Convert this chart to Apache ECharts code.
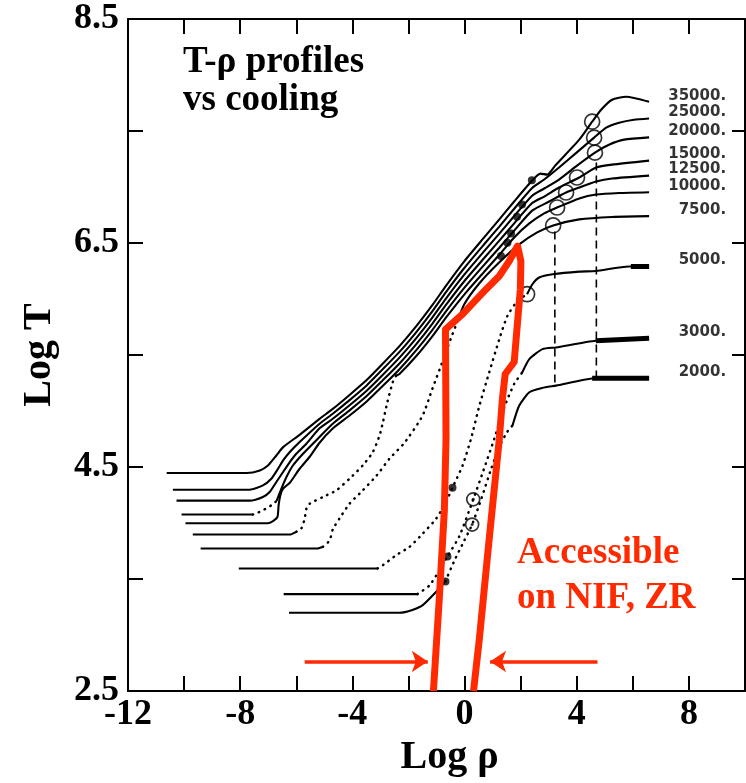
<!DOCTYPE html>
<html><head><meta charset="utf-8">
<script src="https://cdn.jsdelivr.net/npm/echarts@6/dist/echarts.min.js"></script>
<style>html,body{margin:0;padding:0;background:#fff}#c{width:746px;height:783px}</style>
</head><body><div id="c"></div>
<script>
// ---- tick labels ----
const xTickVals = [-10,-8,-6,-4,-2,0,2,4,6,8];
const xLabelVals = [-12,-8,-4,0,4,8];
const yTickVals = [3.5,4.5,5.5,6.5,7.5];
const yLabelVals = [2.5,4.5,6.5,8.5];
const curveLabels = ['35000.','25000.','20000.','15000.','12500.','10000.','7500.','5000.','3000.','2000.'];

// ---- curves (log rho, log T) ----
const c35000 = [[-10.62,4.447],[-7.77,4.447],[-7.30,4.47],[-7.01,4.514],[-6.71,4.603],[-6.47,4.678],[-5.88,4.788],[-5.17,4.930],[-4.70,5.019],[-4.10,5.144],[-3.49,5.277],[-2.93,5.420],[-2.32,5.580],[-1.72,5.758],[-1.15,5.945],[-0.65,6.123],[-0.01,6.337],[0.70,6.550],[1.24,6.711],[1.77,6.871],[2.41,7.058],[2.70,7.12],[2.95,7.111],[3.23,7.191],[4.09,7.423],[4.55,7.583],[4.87,7.690],[5.26,7.779],[5.76,7.806],[6.58,7.761]];
const c25000 = [[-10.40,4.298],[-7.66,4.298],[-7.19,4.336],[-6.89,4.396],[-6.65,4.485],[-6.47,4.559],[-6.23,4.634],[-5.88,4.723],[-5.17,4.887],[-4.70,4.976],[-4.10,5.098],[-3.49,5.229],[-2.93,5.370],[-2.32,5.528],[-1.72,5.705],[-1.15,5.890],[-0.65,6.066],[-0.01,6.277],[0.70,6.489],[1.24,6.647],[1.77,6.806],[2.41,6.991],[2.84,7.067],[3.37,7.174],[3.91,7.289],[4.62,7.441],[5.05,7.530],[5.51,7.574],[6.04,7.601],[6.58,7.612]];
const c20000 = [[-10.27,4.200],[-7.66,4.200],[-7.19,4.233],[-6.95,4.278],[-6.71,4.367],[-6.47,4.456],[-6.23,4.545],[-6.00,4.619],[-5.64,4.708],[-5.17,4.846],[-4.70,4.931],[-4.10,5.052],[-3.49,5.182],[-2.93,5.320],[-2.32,5.477],[-1.72,5.651],[-1.15,5.834],[-0.65,6.009],[-0.01,6.218],[0.70,6.428],[1.24,6.584],[1.77,6.741],[2.41,6.923],[2.84,6.987],[3.37,7.067],[4.01,7.191],[4.65,7.307],[5.15,7.378],[5.69,7.423],[6.58,7.443]];
const c15000a = [[-10.09,4.076],[-7.55,4.076]];
const c15000b = [[-7.55,4.076],[-7.37,4.093],[-7.20,4.114],[-7.02,4.138],[-6.85,4.165],[-6.70,4.198]];
const c15000c = [[-6.70,4.198],[-6.53,4.307],[-6.35,4.411],[-6.12,4.514],[-5.76,4.619],[-5.41,4.708],[-4.70,4.887],[-4.10,5.006],[-3.49,5.134],[-2.93,5.271],[-2.32,5.425],[-1.72,5.598],[-1.15,5.779],[-0.65,5.952],[-0.01,6.159],[0.70,6.366],[1.24,6.521],[1.77,6.676],[2.41,6.857],[2.84,6.915],[3.37,6.996],[4.09,7.085],[4.69,7.174],[5.26,7.200],[6.58,7.236]];
const c12500 = [[-9.95,3.998],[-7.02,3.998],[-6.83,4.018],[-6.67,4.055],[-6.63,4.158],[-6.57,4.247],[-6.47,4.307],[-6.23,4.360],[-5.88,4.485],[-5.52,4.592],[-5.17,4.717],[-4.70,4.844],[-4.10,4.960],[-3.49,5.086],[-2.93,5.221],[-2.32,5.374],[-1.72,5.544],[-1.15,5.723],[-0.65,5.895],[-0.01,6.100],[0.70,6.305],[1.24,6.458],[1.77,6.611],[2.41,6.789],[3.02,6.871],[3.62,6.951],[4.09,6.996],[4.69,7.049],[5.26,7.076],[6.58,7.102]];
const c10000a = [[-9.69,3.898],[-6.23,3.898],[-6.00,3.922]];
const c10000b = [[-6.00,3.922],[-5.82,3.951],[-5.70,4.040],[-5.64,4.129],[-5.52,4.173],[-5.05,4.233],[-4.57,4.292],[-4.10,4.396],[-3.63,4.514],[-3.27,4.634],[-3.03,4.782],[-2.91,4.901],[-2.75,5.082],[-2.56,5.257],[-2.44,5.316]];
const c10000c = [[-2.44,5.316],[-2.32,5.331],[-1.72,5.491],[-1.15,5.667],[-0.65,5.838],[-0.01,6.040],[0.70,6.243],[1.24,6.395],[1.77,6.550],[2.31,6.675],[2.84,6.764],[3.30,6.817],[4.09,6.898],[4.69,6.933],[5.51,6.947],[6.58,6.954]];
const c7500a = [[-9.41,3.773],[-5.24,3.773],[-5.05,3.788]];
const c7500b = [[-5.05,3.788],[-4.81,3.844],[-4.70,3.942],[-4.46,4.040],[-4.10,4.173],[-3.64,4.289],[-3.14,4.423],[-2.68,4.574],[-2.14,4.717],[-1.50,4.957],[-1.15,5.197],[-0.79,5.438],[-0.47,5.660],[-0.26,5.794]];
const c7500c = [[-0.26,5.794],[-0.01,5.954],[0.53,6.141],[1.24,6.328],[1.95,6.488],[2.59,6.595],[3.16,6.657],[4.09,6.711],[5.26,6.733],[6.58,6.740]];
const c5000a = [[-8.05,3.595],[-3.10,3.595]];
const c5000b = [[-3.10,3.595],[-2.91,3.624],[-2.44,3.713],[-1.96,3.788],[-1.49,3.906],[-1.01,4.040],[-0.66,4.189],[-0.43,4.316],[-0.07,4.514],[0.23,4.752],[0.53,5.049],[0.88,5.346],[1.24,5.642],[1.53,5.850],[1.88,5.981],[2.23,6.043]];
const c5000c = [[2.23,6.043],[2.42,6.132],[2.66,6.192],[3.14,6.221],[4.09,6.245],[4.68,6.250],[5.86,6.290],[6.58,6.290]];
const c3000a = [[-6.45,3.366],[-1.68,3.366]];
const c3000b = [[-1.68,3.366],[-1.25,3.443],[-0.90,3.577],[-0.62,3.699],[-0.19,3.880],[0.31,4.212],[0.67,4.467],[1.06,4.752],[1.42,5.037],[1.77,5.242],[2.06,5.346]];
const c3000c = [[2.06,5.346],[2.31,5.464],[2.78,5.553],[3.26,5.568],[4.68,5.627],[6.58,5.651]];
const c2000a = [[-6.26,3.200],[-2.32,3.200],[-1.86,3.225],[-1.49,3.268],[-1.01,3.387],[-0.68,3.482]];
const c2000b = [[-0.68,3.482],[-0.36,3.666],[-0.01,3.844],[0.27,3.987],[0.60,4.218],[0.95,4.485],[1.24,4.681],[1.52,4.814],[1.71,4.871]];
const c2000c = [[1.71,4.871],[1.95,5.049],[2.31,5.168],[2.77,5.206],[3.26,5.227],[4.68,5.293],[6.58,5.293]];

// heavy end segments
const thick5000 = [[5.93,6.290],[6.58,6.290]];
const thick3000 = [[4.68,5.627],[6.58,5.651]];
const thick2000 = [[4.55,5.293],[6.58,5.293]];

// vertical dashed lines
const dashA = [[3.22,6.604],[3.22,5.227]];
const dashB = [[4.70,7.218],[4.70,5.304]];

// markers
const openCircles = [[4.55,7.583],[4.62,7.441],[4.65,7.307],[4.01,7.085],[3.62,6.951],[3.30,6.817],[3.16,6.657],[2.23,6.043]];
const circleDots = [[0.31,4.212],[0.27,3.987]];
const filledDots = [[2.40,7.061],[2.05,6.844],[1.87,6.735],[1.66,6.586],[1.53,6.503],[1.30,6.384],[-0.43,4.316],[-0.61,3.702],[-0.68,3.479]];

// red accessible region outline and arrows
const redPath = [[-1.11,2.5],[-0.90,3.328],[-0.72,4.111],[-0.66,4.752],[-0.68,5.73],[-0.07,5.865],[0.77,6.088],[1.24,6.206],[1.59,6.337],[1.89,6.473],[2.01,6.337],[1.99,6.088],[1.89,5.794],[1.77,5.438],[1.45,5.331],[1.35,5.108],[1.24,4.752],[0.88,3.862],[0.53,2.97],[0.32,2.5]];
const arrowL = [[-5.70,2.764],[-1.31,2.764]];
const arrowR = [[4.74,2.764],[0.91,2.764]];

const RED = '#ff2a00';
const serif = 'Liberation Serif';

const solidSegs = [c35000,c25000,c20000,c15000a,c15000c,c12500,c10000a,c10000c,c7500a,c7500c,c5000a,c5000c,c3000a,c3000c,c2000a,c2000c];
const dottedSegs = [c15000b,c10000b,c7500b,c5000b,c3000b,c2000b];
const lastSegs = [c35000,c25000,c20000,c15000c,c12500,c10000c,c7500c,c5000c,c3000c,c2000c];

const series = [];
solidSegs.forEach(d => series.push({type:'line',data:d,symbol:'none',smooth:0.2,silent:true,z:2,
  lineStyle:{color:'#000',width:2.1}}));
dottedSegs.forEach(d => series.push({type:'line',data:d,symbol:'none',smooth:0.2,silent:true,z:2,
  lineStyle:{color:'#000',width:2.5,type:[0.5,6],cap:'round'}}));
[thick5000,thick3000,thick2000].forEach(d => series.push({type:'line',data:d,symbol:'none',silent:true,z:3,
  lineStyle:{color:'#000',width:5}}));
[dashA,dashB].forEach(d => series.push({type:'line',data:d,symbol:'none',silent:true,z:2,
  lineStyle:{color:'#000',width:1.6,type:[8,5]}}));
series.push({type:'scatter',data:openCircles,symbol:'circle',symbolSize:15,silent:true,z:4,
  itemStyle:{color:'transparent',borderColor:'#000',borderWidth:1.7}});
series.push({type:'scatter',data:circleDots,symbol:'circle',symbolSize:13,silent:true,z:4,
  itemStyle:{color:'transparent',borderColor:'#000',borderWidth:1.7}});
series.push({type:'scatter',data:circleDots,symbol:'circle',symbolSize:3,silent:true,z:4,
  itemStyle:{color:'#000'}});
series.push({type:'scatter',data:filledDots,symbol:'circle',symbolSize:8,silent:true,z:4,
  itemStyle:{color:'#000'}});
series.push({type:'scatter',silent:true,z:5,symbolSize:1,itemStyle:{color:'transparent'},
  data:lastSegs.map((s,i)=>({value:s[s.length-1],name:curveLabels[i]})),
  label:{show:true,formatter:'{b}',position:'inside',align:'right',verticalAlign:'middle',offset:[77,-6],
    fontFamily:'DejaVu Sans',fontWeight:'bold',fontSize:15,color:'#000'}});
series.push({type:'line',data:redPath,symbol:'none',silent:true,z:10,
  lineStyle:{color:RED,width:7,join:'round',cap:'butt'}});
series.push({type:'lines',coordinateSystem:'cartesian2d',silent:true,z:10,
  symbol:['none','arrow'],symbolSize:16,
  lineStyle:{color:RED,width:3.5,opacity:1,curveness:0},
  data:[{coords:arrowL},{coords:arrowR}]});

const axisCommon = {
  axisLine:{show:true,onZero:false,lineStyle:{color:'#000',width:2}},
  splitLine:{show:false}
};
const option = {
  animation:false,
  backgroundColor:'#fff',
  grid:{left:128,right:1,top:19,bottom:90,containLabel:false},
  xAxis:[
    Object.assign({type:'value',min:-12,max:10,position:'bottom',
      axisTick:{show:true,inside:true,length:15,customValues:xTickVals,lineStyle:{color:'#000',width:2}},
      axisLabel:{customValues:xLabelVals,fontFamily:serif,fontWeight:'bold',fontSize:36,color:'#000',margin:6},
      name:'Log ρ',nameLocation:'middle',nameGap:42,
      nameTextStyle:{fontFamily:serif,fontWeight:'bold',fontSize:40,color:'#000',padding:[0,0,0,26]}},axisCommon),
    Object.assign({type:'value',min:-12,max:10,position:'top',
      axisTick:{show:true,inside:true,length:15,customValues:xTickVals,lineStyle:{color:'#000',width:2}},
      axisLabel:{show:false}},axisCommon)
  ],
  yAxis:[
    Object.assign({type:'value',min:2.5,max:8.5,position:'left',
      axisTick:{show:true,inside:true,length:15,customValues:yTickVals,lineStyle:{color:'#000',width:2}},
      axisLabel:{customValues:yLabelVals,fontFamily:serif,fontWeight:'bold',fontSize:36,color:'#000',margin:9,
        formatter:v=>v.toFixed(1)},
      name:'Log T',nameLocation:'middle',nameGap:68,
      nameTextStyle:{fontFamily:serif,fontWeight:'bold',fontSize:40,color:'#000'}},axisCommon),
    Object.assign({type:'value',min:2.5,max:8.5,position:'right',
      axisTick:{show:true,inside:true,length:13,customValues:yTickVals,lineStyle:{color:'#000',width:2}},
      axisLabel:{show:false}},axisCommon)
  ],
  graphic:[
    {type:'text',left:183,top:43,z:20,style:{text:'T-ρ profiles\nvs cooling',font:'bold 37px "Liberation Serif"',fill:'#000',lineHeight:38}},
    {type:'text',left:517,top:531,z:20,style:{text:'Accessible\non NIF, ZR',font:'bold 37px "Liberation Serif"',fill:RED,lineHeight:45}}
  ],
  series:series
};
const chart = echarts.init(document.getElementById('c'),null,{renderer:'canvas'});
chart.setOption(option);
</script></body></html>
